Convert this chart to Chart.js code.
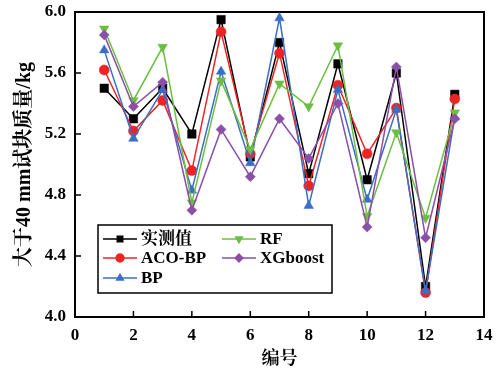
<!DOCTYPE html>
<html>
<head>
<meta charset="utf-8">
<script src="https://cdn.jsdelivr.net/npm/chart.js@4.4.0/dist/chart.umd.min.js"></script>
<style>
  html, body { margin: 0; padding: 0; background: #fff; }
</style>
</head>
<body>
<canvas id="chart" width="497" height="370"></canvas>
<script>
// sample number on the x axis
const sampleIds = [1, 2, 3, 4, 5, 6, 7, 8, 9, 10, 11, 12, 13];

// mass of pieces > 40 mm (kg)
const measured = [5.50, 5.30, 5.50, 5.20, 5.95, 5.05, 5.80, 4.94, 5.66, 4.90, 5.60, 4.20, 5.46];
const acoBp    = [5.62, 5.22, 5.42, 4.96, 5.87, 5.07, 5.73, 4.86, 5.52, 5.07, 5.37, 4.16, 5.43];
const bp       = [5.75, 5.17, 5.49, 4.83, 5.61, 5.01, 5.96, 4.73, 5.49, 4.77, 5.36, 4.17, 5.31];
const rf       = [5.89, 5.42, 5.77, 4.75, 5.55, 5.10, 5.53, 5.38, 5.78, 4.66, 5.21, 4.65, 5.34];
const xgboost  = [5.85, 5.38, 5.54, 4.70, 5.23, 4.92, 5.30, 5.04, 5.40, 4.59, 5.64, 4.52, 5.30];

const xTicks = [0, 2, 4, 6, 8, 10, 12, 14];
const yTicks = [4.0, 4.4, 4.8, 5.2, 5.6, 6.0];

const seriesNames = ["实测值", "ACO-BP", "BP", "RF", "XGboost"];

const serif = '"Liberation Serif", "Noto Serif CJK SC", "Noto Sans CJK SC", serif';

const toPoints = (vals) => sampleIds.map((x, i) => ({ x: x, y: vals[i] }));

const makeSet = (label, vals, color, style, radius, rotation, order) => ({
  label: label,
  data: toPoints(vals),
  borderColor: color,
  backgroundColor: color,
  pointBackgroundColor: color,
  pointBorderColor: color,
  borderWidth: 1.5,
  pointStyle: style,
  pointRadius: radius,
  pointRotation: rotation,
  pointBorderWidth: 0.5,
  tension: 0,
  order: order,
});

// legend with box, two columns (drawn by hand)
const legendSpots = [
  { x: 103, y: 239 }, { x: 103, y: 258 }, { x: 103, y: 278 },
  { x: 222, y: 239 }, { x: 222, y: 258 },
];

const framePlugin = {
  id: "frame",
  beforeDatasetsDraw(chart) {
    const { ctx, chartArea: a, scales } = chart;
    ctx.save();
    ctx.strokeStyle = "#000";
    ctx.lineWidth = 1.5;
    ctx.beginPath();
    scales.x.ticks.forEach((t) => {
      const px = scales.x.getPixelForValue(t.value);
      if (px <= a.left + 1 || px >= a.right - 1) return;
      ctx.moveTo(px, a.bottom);
      ctx.lineTo(px, a.bottom - 6);
    });
    scales.y.ticks.forEach((t) => {
      const py = scales.y.getPixelForValue(t.value);
      if (py <= a.top + 1 || py >= a.bottom - 1) return;
      ctx.moveTo(a.left, py);
      ctx.lineTo(a.left + 6, py);
    });
    ctx.stroke();
    ctx.lineWidth = 2;
    ctx.strokeRect(a.left, a.top, a.right - a.left, a.bottom - a.top);
    ctx.restore();
  },
  afterDraw(chart) {
    const ctx = chart.ctx;
    ctx.save();
    ctx.fillStyle = "#fff";
    ctx.fillRect(98, 225, 234, 68);
    ctx.strokeStyle = "#000";
    ctx.lineWidth = 1.5;
    ctx.strokeRect(98, 225, 234, 68);
    chart.data.datasets.forEach((ds, i) => {
      const s = legendSpots[i];
      ctx.strokeStyle = ds.borderColor;
      ctx.fillStyle = ds.backgroundColor;
      ctx.lineWidth = 1.3;
      ctx.beginPath();
      ctx.moveTo(s.x, s.y);
      ctx.lineTo(s.x + 34, s.y);
      ctx.stroke();
      Chart.helpers.drawPoint(ctx, {
        pointStyle: ds.pointStyle,
        radius: 4,
        rotation: ds.pointRotation,
        borderWidth: 0.5,
      }, s.x + 17, s.y);
      ctx.fillStyle = "#000";
      ctx.font = "bold 17px " + serif;
      ctx.textBaseline = "middle";
      ctx.fillText(ds.label, s.x + 38, s.y + 1);
    });
    ctx.restore();
  },
};

new Chart(document.getElementById("chart"), {
  type: "line",
  data: {
    datasets: [
      makeSet(seriesNames[0], measured, "#000000", "rect", 6, 0, 5),
      makeSet(seriesNames[1], acoBp, "#EE2424", "circle", 5, 0, 4),
      makeSet(seriesNames[2], bp, "#3A6EC4", "triangle", 5.5, 0, 3),
      makeSet(seriesNames[3], rf, "#6CBE42", "triangle", 5.5, 180, 2),
      makeSet(seriesNames[4], xgboost, "#8B4FA8", "rectRot", 5, 0, 1),
    ],
  },
  options: {
    responsive: false,
    animation: false,
    layout: { padding: { left: 0, right: 13, top: 12, bottom: 0 } },
    plugins: {
      legend: { display: false },
      tooltip: { enabled: false },
    },
    scales: {
      x: {
        type: "linear",
        min: 0,
        max: 14,
        afterBuildTicks: (s) => { s.ticks = xTicks.map((v) => ({ value: v })); },
        afterFit: (s) => { s.height = 53; s.paddingLeft = 0; s.paddingRight = 0; },
        grid: { display: false },
        border: { display: false },
        ticks: {
          color: "#000",
          padding: 0,
          maxRotation: 0,
          font: { family: serif, size: 17, weight: "bold" },
        },
        title: {
          display: true,
          text: "编号",
          color: "#000",
          padding: { top: 0, bottom: 0 },
          font: { family: serif, size: 18, weight: "bold" },
        },
      },
      y: {
        min: 4.0,
        max: 6.0,
        afterBuildTicks: (s) => { s.ticks = yTicks.map((v) => ({ value: v })); },
        afterFit: (s) => { s.width = 75; s.paddingTop = 0; s.paddingBottom = 0; },
        grid: { display: false },
        border: { display: false },
        ticks: {
          color: "#000",
          padding: 1,
          callback: (v) => Number(v).toFixed(1),
          font: { family: serif, size: 17, weight: "bold" },
        },
        title: {
          display: true,
          text: "大于40 mm试块质量/kg",
          color: "#000",
          padding: { top: 13, bottom: 0 },
          font: { family: serif, size: 20, weight: "bold" },
        },
      },
    },
  },
  plugins: [framePlugin],
});
</script>
</body>
</html>
